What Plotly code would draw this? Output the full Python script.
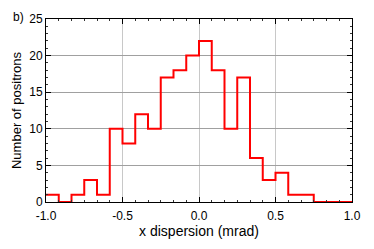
import plotly.graph_objects as go

bin_edges = [-1 + i / 12 for i in range(25)]
counts = [1, 0, 1, 3, 1, 10, 8, 12, 10, 17, 18, 20,
          22, 18, 10, 17, 6, 3, 4, 1, 1, 0, 0, 0]
x_ticks = [-1.0, -0.5, 0.0, 0.5, 1.0]
y_ticks = [0, 5, 10, 15, 20, 25]

fig = go.Figure()
fig.add_trace(go.Scatter(
    x=bin_edges, y=counts + [counts[-1]],
    mode="lines", line=dict(color="#ff0000", width=2, shape="hv"),
    showlegend=False, cliponaxis=False,
))

font = "Liberation Sans, Arial, sans-serif"
fig.update_layout(
    width=366, height=241,
    margin=dict(l=38, r=22, t=11, b=47, autoexpand=False),
    paper_bgcolor="white", plot_bgcolor="white",
    font=dict(family=font, size=12, color="black"),
    annotations=[dict(text="b)", xref="paper", yref="paper",
                      x=-0.114, y=1.06, xanchor="left", yanchor="top",
                      showarrow=False, font=dict(size=12))],
)
fig.update_xaxes(
    range=[-1, 1], tickvals=x_ticks, ticktext=[f"{v:.1f}" for v in x_ticks],
    automargin=False,
    showline=True, linecolor="black", linewidth=1, mirror="ticks",
    ticks="inside", ticklen=5, tickcolor="black",
    showgrid=True, gridcolor="#c8c8c8", gridwidth=1, zeroline=False,
    minor=dict(dtick=1/12, tick0=-1, ticks="inside", ticklen=2, tickcolor="#333", showgrid=False),
    title=dict(text="x dispersion (mrad)", font=dict(size=14), standoff=1),
    tickfont=dict(size=12), ticklabelstandoff=3,
)
fig.update_yaxes(
    range=[0, 25], tickvals=y_ticks,
    automargin=False,
    showline=True, linecolor="black", linewidth=1, mirror="ticks",
    ticks="inside", ticklen=5, tickcolor="black",
    showgrid=True, gridcolor="#a0a0a0", gridwidth=1, zeroline=False,
    minor=dict(dtick=1, ticks="inside", ticklen=2, tickcolor="#333", showgrid=False),
    title=dict(text="Number of positrons", font=dict(size=13), standoff=4),
    tickfont=dict(size=12),
)
fig.write_html("out.html")
